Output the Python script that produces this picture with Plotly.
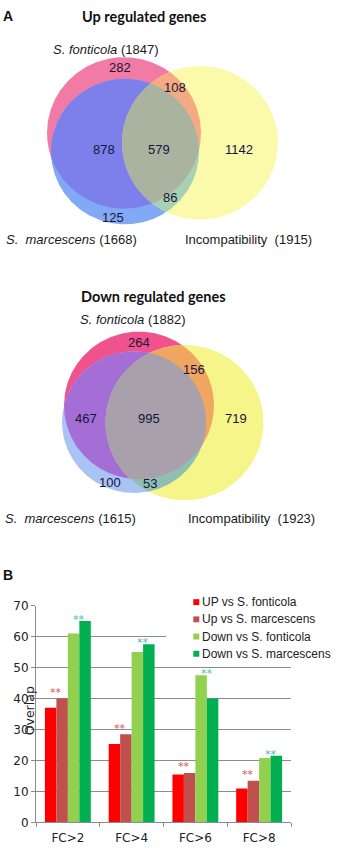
import numpy as np
import plotly.graph_objects as go

# ---------------- data ----------------
venn_titles = ["Up regulated genes", "Down regulated genes"]
set_names = ["S. fonticola", "S. marcescens", "Incompatibility"]
up_totals = [1847, 1668, 1915]
down_totals = [1882, 1615, 1923]
# region order: F only, F&I only, F&M only, F&M&I, I only, M&I only, M only
up_counts = [282, 108, 878, 579, 1142, 86, 125]
down_counts = [264, 156, 467, 995, 719, 53, 100]

categories = ["FC>2", "FC>4", "FC>6", "FC>8"]
series_names = ["UP vs S. fonticola", "Up vs S. marcescens",
                "Down vs S. fonticola", "Down vs S. marcescens"]
up_fonticola = [37.0, 25.3, 15.5, 11.0]
up_marcescens = [40.0, 28.5, 16.0, 13.5]
down_fonticola = [61.0, 55.0, 47.5, 20.8]
down_marcescens = [65.0, 57.5, 40.0, 21.5]
y_ticks = [0, 10, 20, 30, 40, 50, 60, 70]

# ---------------- styling / layout constants ----------------
W, H = 340, 858
bar_colors = ["#FF0000", "#C0504D", "#92D050", "#00B050"]
ARIAL = "Liberation Sans, Arial, sans-serif"
DEJAVU = "DejaVu Sans, Verdana, sans-serif"

venn_cfg = [
    dict(circles=[(124, 128, 77), (125, 147, 74), (200, 138, 78)],
         colors=dict(F="#F27BA6", M="#82A9F5", I="#FAFAAA", FM="#7D80EB",
                     FI="#F5AA82", MI="#A8D0B4", FMI="#AAB2A0"),
         title_xy=(144, 10),
         label_xy=[(106, 43), (71, 236), (248.5, 236)],
         count_xy=[(119.7, 61), (175, 82), (103.8, 144.5), (159.2, 144.5),
                   (239.3, 144.5), (170, 193.5), (112.5, 213.5)]),
    dict(circles=[(139, 405, 75), (134, 422, 72), (184.5, 422.5, 79)],
         colors=dict(F="#F0528D", M="#AAC3F5", I="#F5F58A", FM="#A56ED7",
                     FI="#F0A560", MI="#8EBFB2", FMI="#A8A0AA"),
         title_xy=(153.5, 294),
         label_xy=[(132.5, 318), (70, 520), (251.5, 520)],
         count_xy=[(138.5, 341), (194, 368.5), (85.8, 418.5), (148.8, 418.5),
                   (235.5, 418.5), (149.7, 484), (110, 483)]),
]


def region_polygon(circles, n=900):
    """Intersection of disks (convex) as an ordered polygon."""
    pts = []
    for i, (cx, cy, r) in enumerate(circles):
        t = np.linspace(0, 2 * np.pi, n, endpoint=False)
        x = cx + r * np.cos(t)
        y = cy + r * np.sin(t)
        mask = np.ones_like(x, dtype=bool)
        for j, (ox, oy, orr) in enumerate(circles):
            if j != i:
                mask &= (x - ox) ** 2 + (y - oy) ** 2 <= orr ** 2
        pts.append(np.c_[x[mask], y[mask]])
    P = np.vstack(pts)
    c = P.mean(axis=0)
    ang = np.arctan2(P[:, 1] - c[1], P[:, 0] - c[0])
    P = P[np.argsort(ang)]
    return np.r_[P, P[:1]]


fig = go.Figure()

# ---------------- Venn diagrams (canvas axes in pixel units) ----------------
annotations = []
for cfg, totals, counts, title in zip(venn_cfg, [up_totals, down_totals],
                                      [up_counts, down_counts], venn_titles):
    F, M, I = cfg["circles"]
    col = cfg["colors"]
    for key, circ in [("F", [F]), ("M", [M]), ("I", [I]), ("FM", [F, M]),
                      ("FI", [F, I]), ("MI", [M, I]), ("FMI", [F, M, I])]:
        P = region_polygon(circ)
        fig.add_trace(go.Scatter(x=P[:, 0], y=P[:, 1], mode="lines", fill="toself",
                                 fillcolor=col[key], line=dict(width=0, color=col[key]),
                                 hoverinfo="skip", showlegend=False, xaxis="x", yaxis="y"))
    tx, ty = cfg["title_xy"]
    annotations.append(dict(x=tx, y=ty, xref="x", yref="y", text="<b>%s</b>" % title,
                            showarrow=False, font=dict(family="Lato, sans-serif", size=14.5, color="#111")))
    labels = ["<i>S. fonticola</i> (%d)" % totals[0],
              "<i>S.\u00a0 marcescens</i> (%d)" % totals[1],
              "Incompatibility\u00a0 (%d)" % totals[2]]
    for (lx, ly), lab in zip(cfg["label_xy"], labels):
        annotations.append(dict(x=lx, y=ly, xref="x", yref="y", text=lab, showarrow=False,
                                font=dict(family=ARIAL, size=13, color="#1a1a1a")))
    for (cx, cy), v in zip(cfg["count_xy"], counts):
        annotations.append(dict(x=cx, y=cy, xref="x", yref="y", text=str(v), showarrow=False,
                                font=dict(family=ARIAL, size=13, color="#16163a")))

annotations.append(dict(x=8, y=9, xref="x", yref="y", text="<b>A</b>", showarrow=False,
                        font=dict(family=ARIAL, size=14, color="#111")))
annotations.append(dict(x=8, y=577, xref="x", yref="y", text="<b>B</b>", showarrow=False,
                        font=dict(family=ARIAL, size=14, color="#111")))

# ---------------- bar chart ----------------
series = [up_fonticola, up_marcescens, down_fonticola, down_marcescens]
for name, vals, c in zip(series_names, series, bar_colors):
    fig.add_trace(go.Bar(x=categories, y=vals, name=name, marker=dict(color=c, line=dict(width=0)),
                         xaxis="x2", yaxis="y2", showlegend=False))

# significance stars
for cat, a, b, c2, d in zip(categories, up_fonticola, up_marcescens, down_fonticola, down_marcescens):
    annotations.append(dict(x=cat, y=max(a, b), xref="x2", yref="y2", text="**", showarrow=False,
                            xshift=-11.4, yshift=6, yanchor="middle",
                            font=dict(family=DEJAVU, size=11, color="#E0505A")))
    annotations.append(dict(x=cat, y=max(c2, d), xref="x2", yref="y2", text="**", showarrow=False,
                            xshift=11.4, yshift=1.5, yanchor="middle",
                            font=dict(family=DEJAVU, size=11, color="#45BDB0")))

annotations.append(dict(x=29, y=716, xref="x", yref="y", text="Overlap", textangle=-90,
                        showarrow=False, font=dict(family=DEJAVU, size=12.5, color="#222")))

# custom legend
shapes = [dict(type="rect", xref="x", yref="y", x0=166, x1=340, y0=595, y1=667,
               fillcolor="white", line=dict(width=0), layer="above")]
legend_rows = [605, 622.5, 640, 657.5]
for ry, name, c in zip(legend_rows, series_names, bar_colors):
    shapes.append(dict(type="rect", xref="x", yref="y", x0=193.3, x1=199.3, y0=ry - 3, y1=ry + 3,
                       fillcolor=c, line=dict(width=0), layer="above"))
    annotations.append(dict(x=199.5, y=ry, xref="x", yref="y", text=name, showarrow=False,
                            xanchor="left", yanchor="middle",
                            font=dict(family=ARIAL, size=12, color="#222")))

grid = "#8C8C8C"
fig.update_layout(
    width=W, height=H, margin=dict(l=0, r=0, t=0, b=0),
    paper_bgcolor="white", plot_bgcolor="rgba(0,0,0,0)",
    showlegend=False, barmode="group", bargap=0.28, bargroupgap=0,
    xaxis=dict(domain=[0, 1], range=[0, W], visible=False, fixedrange=True),
    yaxis=dict(domain=[0, 1], range=[H, 0], visible=False, fixedrange=True),
    xaxis2=dict(domain=[36 / W, 291 / W], anchor="y2", type="category",
                showline=True, linecolor=grid, linewidth=1, ticks="outside",
                tickson="boundaries", ticklen=4, tickcolor=grid, showgrid=False,
                ticklabelstandoff=4,
                tickfont=dict(family=DEJAVU, size=12, color="#222")),
    yaxis2=dict(domain=[(H - 829) / H, (H - 608.5) / H], anchor="x2", range=[0, 70],
                tickvals=y_ticks, showline=True, linecolor=grid, linewidth=1,
                ticks="outside", ticklen=4, tickcolor=grid, showgrid=True,
                gridcolor=grid, gridwidth=1, zeroline=False,
                tickfont=dict(family=DEJAVU, size=12, color="#222")),
    annotations=annotations, shapes=shapes,
)

fig.write_html("out.html", config={"displayModeBar": False},
               post_script="document.body.style.margin='0';document.body.style.overflow='hidden';")
